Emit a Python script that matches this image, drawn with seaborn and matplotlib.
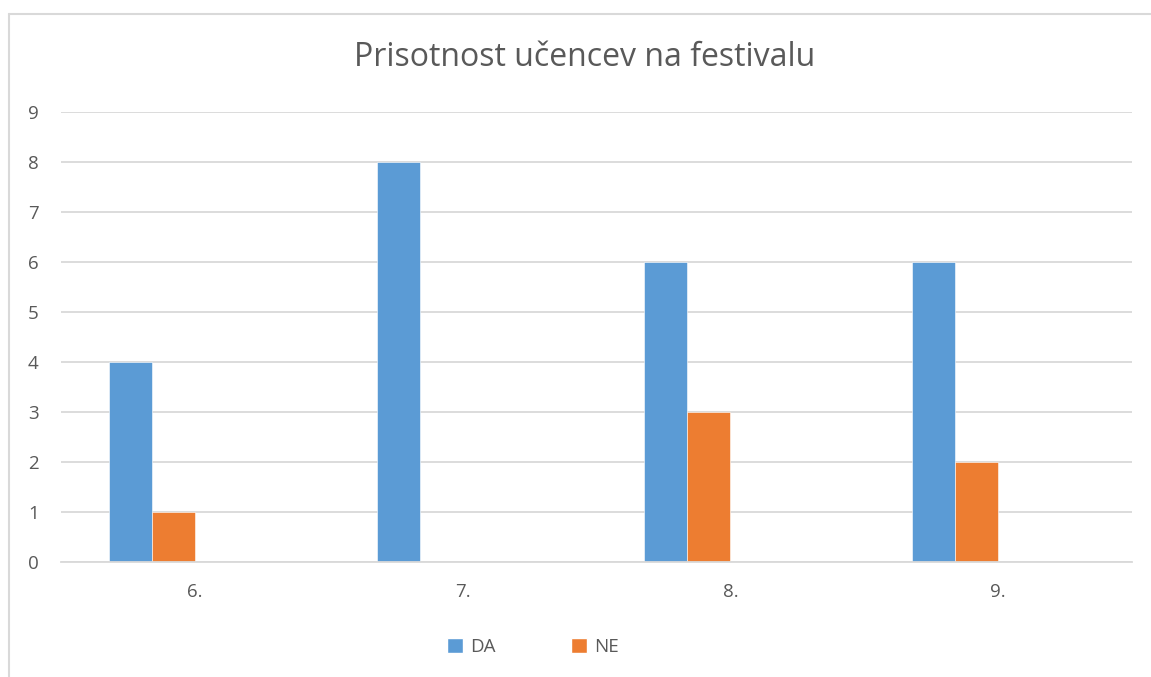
import seaborn as sns
import pandas as pd
import matplotlib.pyplot as plt
from matplotlib.patches import Patch
from matplotlib.lines import Line2D

razredi = ["6.", "7.", "8.", "9."]
da = [4, 8, 6, 6]
ne = [1, 0, 3, 2]
serije = ["DA", "NE"]
barve = ["#5B9BD5", "#ED7D31"]

df = pd.DataFrame({
    "razred": razredi * 2,
    "odgovor": ["DA"] * len(razredi) + ["NE"] * len(razredi),
    "stevilo": da + ne,
})

sns.set_theme(style="white")
plt.rcParams['font.family'] = ['Open Sans', 'DejaVu Sans']
txt = "#595959"

fig = plt.figure(figsize=(11.51, 6.77), dpi=100)
ax = fig.add_axes([61 / 1151, 1 - 562 / 677, (1132 - 61) / 1151, (562 - 112) / 677])

# excel leaves room for two empty series in every group
hue_order = serije + ["_s3", "_s4"]
pal = dict(zip(hue_order, barve + ["#FFFFFF", "#FFFFFF"]))
sns.barplot(data=df, x="razred", y="stevilo", hue="odgovor", hue_order=hue_order,
            order=razredi, palette=pal, width=0.643, saturation=1, legend=False,
            linewidth=0.4, edgecolor="white", ax=ax)

ax.set_ylim(0, 9)
ax.set_yticks(range(0, 10))
ax.yaxis.grid(True, color="#D9D9D9", linewidth=1.3)
ax.set_axisbelow(True)
for s in ["left", "right", "top"]:
    ax.spines[s].set_visible(False)
ax.spines["bottom"].set_color("#D9D9D9")
ax.spines["bottom"].set_linewidth(1.3)
ax.tick_params(axis="both", length=0, labelsize=13.5, colors=txt)
ax.tick_params(axis="y", pad=16)
ax.tick_params(axis="x", pad=15)
ax.set_xlabel("")
ax.set_ylabel("")

fig.suptitle("Prisotnost učencev na festivalu", x=0.508, y=1 - 58 / 677, va="center",
             fontsize=23, color=txt)

handles = [Patch(facecolor=c, label=s) for s, c in zip(serije, barve)]
fig.legend(handles=handles, loc="center", bbox_to_anchor=(533 / 1151, 1 - 647 / 677), ncol=2,
           frameon=False, fontsize=13.5, labelcolor=txt, handlelength=0.85, handleheight=0.85,
           handletextpad=0.4, columnspacing=4.0)

fig.add_artist(Line2D([8.5 / 1151, 8.5 / 1151], [0, 1 - 13.5 / 677], color="#D9D9D9", lw=1.5))
fig.add_artist(Line2D([8.5 / 1151, 1], [1 - 13.5 / 677, 1 - 13.5 / 677], color="#D9D9D9", lw=1.5))

fig.savefig("out.png", dpi=100, facecolor="white")
